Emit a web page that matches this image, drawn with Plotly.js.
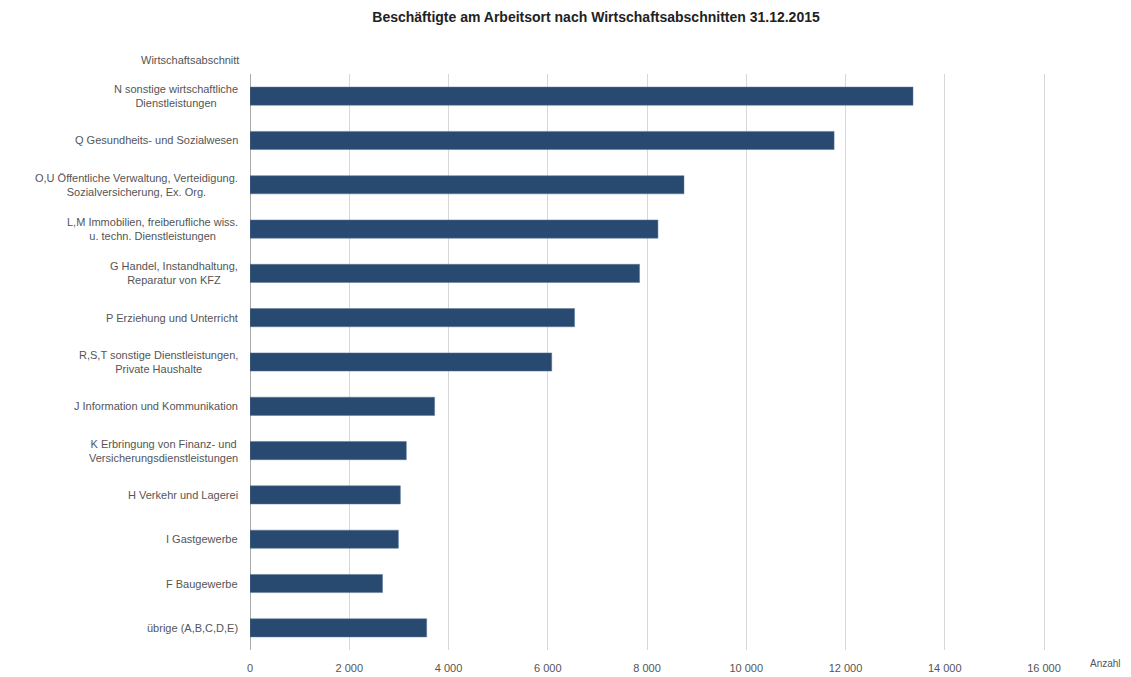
<!DOCTYPE html>
<html><head><meta charset="utf-8">
<script src="https://cdn.plot.ly/plotly-3.0.1.min.js"></script>
<style>html,body{margin:0;padding:0;background:#fff}#chart{width:1131px;height:677px}</style>
</head><body><div id="chart"></div>
<script>
const categories = [
  "N sonstige wirtschaftliche<br>Dienstleistungen",
  "Q Gesundheits- und Sozialwesen",
  "O,U Öffentliche Verwaltung, Verteidigung.<br>Sozialversicherung, Ex. Org.",
  "L,M Immobilien, freiberufliche wiss.<br>u. techn. Dienstleistungen",
  "G Handel, Instandhaltung,<br>Reparatur von KFZ",
  "P Erziehung und Unterricht",
  "R,S,T sonstige Dienstleistungen,<br>Private Haushalte",
  "J Information und Kommunikation",
  "K Erbringung von Finanz- und<br>Versicherungsdienstleistungen",
  "H Verkehr und Lagerei",
  "I Gastgewerbe",
  "F Baugewerbe",
  "übrige (A,B,C,D,E)"
];
const values = [13360, 11770, 8745, 8220, 7850, 6540, 6080, 3720, 3150, 3030, 2990, 2670, 3560];
const titleText = "Beschäftigte am Arbeitsort nach Wirtschaftsabschnitten 31.12.2015";
const yTitle = "Wirtschaftsabschnitt";
const xTitle = "Anzahl";

const font = "Liberation Sans, Arial, sans-serif";
const labelAnnotations = categories.map(c => ({
  text: c, xref: "paper", x: 0, xanchor: "right", xshift: -10,
  yref: "y", y: c, yanchor: "middle", align: "center", showarrow: false,
  font: {family: font, size: 11, color: "#555"}
}));

const trace = {
  type: "bar", orientation: "h", x: values, y: categories,
  marker: {color: "#284a70", line: {color: "#5a7595", width: 0.5}},
  hoverinfo: "x+y"
};
const layout = {
  width: 1131, height: 677,
  margin: {l: 250, r: 85, t: 74, b: 27},
  paper_bgcolor: "#fff", plot_bgcolor: "#fff",
  separators: ", ",
  bargap: 0.59,
  showlegend: false,
  title: {text: "<b>" + titleText + "</b>", x: 0.527, xanchor: "center", y: 0.975, yanchor: "middle",
          font: {family: font, size: 14, color: "#222"}},
  xaxis: {range: [0, 16040], dtick: 2000, tickformat: ",d", showgrid: true, gridcolor: "#d8d8d8", gridwidth: 1,
          zeroline: true, zerolinecolor: "#aaa", zerolinewidth: 1, showline: false, ticks: "",
          ticklabelstandoff: 10,
          tickfont: {family: font, size: 11, color: "#555"}, fixedrange: true},
  yaxis: {type: "category", autorange: "reversed", showticklabels: false, showgrid: false, zeroline: false,
          showline: false, ticks: "", fixedrange: true},
  annotations: labelAnnotations.concat([
    {text: yTitle, xref: "paper", x: 0, xanchor: "right", xshift: -9, yref: "paper", y: 1, yanchor: "bottom", yshift: 6,
     showarrow: false, font: {family: font, size: 11, color: "#555"}},
    {text: xTitle, xref: "paper", x: 1, xanchor: "left", xshift: 42, yref: "paper", y: 0, yanchor: "top", yshift: -6,
     showarrow: false, font: {family: font, size: 10, color: "#555"}}
  ])
};
Plotly.newPlot("chart", [trace], layout, {displayModeBar: false, staticPlot: true});
</script></body></html>
